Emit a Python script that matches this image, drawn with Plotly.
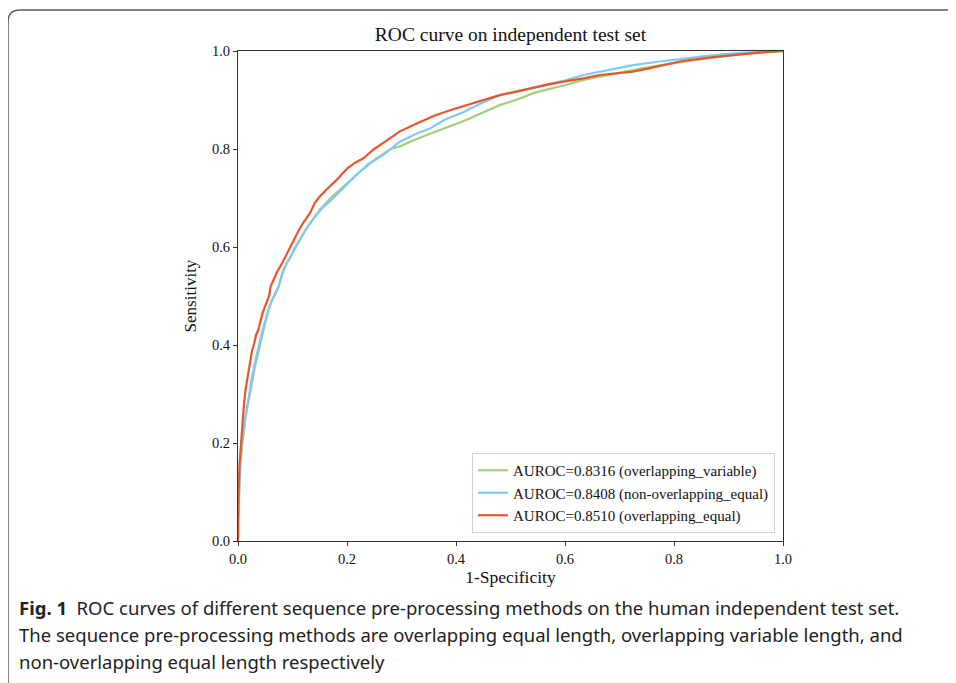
import plotly.graph_objects as go

# ---- data ----
fpr_var = [0, 0, 0.002, 0.004, 0.007, 0.010, 0.015, 0.020, 0.024, 0.027, 0.030, 0.034, 0.038, 0.040, 0.046, 0.054,
           0.060, 0.066, 0.075, 0.083, 0.094, 0.105, 0.117, 0.130, 0.150, 0.170, 0.193, 0.220, 0.254, 0.280, 0.297,
           0.316, 0.350, 0.380, 0.419, 0.440, 0.481, 0.510, 0.542, 0.580, 0.600, 0.634, 0.664, 0.700, 0.725, 0.770,
           0.817, 0.860, 0.909, 0.950, 1.0]
tpr_var = [0, 0.04, 0.09, 0.15, 0.19, 0.22, 0.26, 0.29, 0.31, 0.33, 0.35, 0.37, 0.39, 0.40, 0.43, 0.465,
           0.485, 0.50, 0.52, 0.553, 0.575, 0.60, 0.621, 0.645, 0.676, 0.70, 0.723, 0.75, 0.781, 0.80, 0.805,
           0.815, 0.83, 0.842, 0.859, 0.87, 0.89, 0.90, 0.914, 0.925, 0.93, 0.941, 0.948, 0.955, 0.961, 0.97,
           0.978, 0.985, 0.992, 0.996, 1.0]

fpr_nov = [0, 0, 0.002, 0.004, 0.007, 0.010, 0.015, 0.020, 0.025, 0.031, 0.035, 0.039, 0.045, 0.054, 0.060, 0.066,
           0.074, 0.080, 0.089, 0.094, 0.105, 0.120, 0.124, 0.140, 0.157, 0.175, 0.199, 0.220, 0.240, 0.267, 0.297,
           0.325, 0.352, 0.380, 0.413, 0.445, 0.481, 0.510, 0.550, 0.600, 0.634, 0.664, 0.700, 0.725, 0.770, 0.817,
           0.860, 0.909, 0.950, 1.0]
tpr_nov = [0, 0.05, 0.10, 0.159, 0.20, 0.227, 0.265, 0.294, 0.33, 0.363, 0.385, 0.403, 0.43, 0.465, 0.485, 0.50,
           0.519, 0.54, 0.567, 0.575, 0.60, 0.628, 0.635, 0.66, 0.682, 0.70, 0.727, 0.75, 0.77, 0.788, 0.815,
           0.83, 0.842, 0.86, 0.875, 0.893, 0.91, 0.917, 0.927, 0.94, 0.951, 0.958, 0.966, 0.971, 0.978, 0.985,
           0.99, 0.995, 0.998, 1.0]

fpr_eq = [0, 0, 0.001, 0.003, 0.006, 0.008, 0.011, 0.014, 0.018, 0.022, 0.026, 0.029, 0.033, 0.037, 0.041, 0.045,
          0.050, 0.054, 0.057, 0.060, 0.065, 0.072, 0.081, 0.089, 0.097, 0.105, 0.112, 0.120, 0.132, 0.141, 0.150,
          0.165, 0.181, 0.200, 0.215, 0.230, 0.250, 0.266, 0.297, 0.328, 0.360, 0.389, 0.420, 0.450, 0.480, 0.511,
          0.536, 0.570, 0.600, 0.634, 0.664, 0.700, 0.725, 0.760, 0.800, 0.817, 0.860, 0.909, 0.950, 1.0]
tpr_eq = [0, 0.06, 0.10, 0.16, 0.21, 0.24, 0.28, 0.31, 0.34, 0.365, 0.39, 0.40, 0.42, 0.43, 0.45, 0.465,
          0.48, 0.49, 0.50, 0.52, 0.533, 0.55, 0.567, 0.585, 0.60, 0.62, 0.635, 0.65, 0.669, 0.69, 0.703,
          0.72, 0.737, 0.76, 0.772, 0.781, 0.80, 0.812, 0.836, 0.852, 0.868, 0.879, 0.89, 0.90, 0.91, 0.917,
          0.924, 0.932, 0.938, 0.944, 0.951, 0.955, 0.958, 0.966, 0.976, 0.98, 0.986, 0.992, 0.996, 1.0]

names = ["AUROC=0.8316 (overlapping_variable)",
         "AUROC=0.8408 (non-overlapping_equal)",
         "AUROC=0.8510 (overlapping_equal)"]
colors = ["#a3cf7d", "#80c9f6", "#e8562b"]
tick_vals = [0.0, 0.2, 0.4, 0.6, 0.8, 1.0]
tick_text = ["0.0", "0.2", "0.4", "0.6", "0.8", "1.0"]

# page body has an 8px margin: work in screen pixels and shift
OFF = 8
W, H = 956 - OFF, 683 - OFF
L, R, T, B = 238 - OFF, 783 - OFF, 51 - OFF, 541 - OFF

def px(x):
    return (x - OFF - L) / (R - L)

def py(y):
    return (B - (y - OFF)) / (B - T)

fig = go.Figure()
for xs, ys, nm, c in zip([fpr_var, fpr_nov, fpr_eq], [tpr_var, tpr_nov, tpr_eq], names, colors):
    fig.add_trace(go.Scatter(x=xs, y=ys, mode="lines", name=nm,
                             line=dict(color=c, width=2.2)))

serif = "Liberation Serif, Times New Roman, serif"
axis_common = dict(range=[0, 1], tickvals=tick_vals, ticktext=tick_text, showgrid=False, zeroline=False,
                   showline=True, linecolor="#333333", linewidth=1.2, mirror=True,
                   ticks="outside", ticklen=4, tickwidth=1, tickcolor="#333333",
                   tickfont=dict(family=serif, size=14.5, color="#111111"))

fig.update_layout(
    width=W, height=H,
    margin=dict(l=L, r=W - R, t=T, b=H - B, pad=0),
    paper_bgcolor="white", plot_bgcolor="white",
    title=dict(text="ROC curve on independent test set", x=px(510.5), xref="paper", xanchor="center",
               y=1 - (34 - OFF) / H, yanchor="middle", font=dict(family=serif, size=19.5, color="#111111")),
    xaxis=dict(**axis_common, title=dict(text="1-Specificity", standoff=5,
                                         font=dict(family=serif, size=17.5, color="#111111"))),
    yaxis=dict(**axis_common, title=dict(text="Sensitivity", standoff=10,
                                         font=dict(family=serif, size=17, color="#111111"))),
    legend=dict(x=px(775), y=py(533), xanchor="right", yanchor="bottom",
                bgcolor="white", bordercolor="#d0d0d0", borderwidth=1,
                font=dict(family=serif, size=15, color="#111111"), itemwidth=30,
                tracegroupgap=0),
    showlegend=True,
)

# frame around the figure (rounded top-left corner, continuing past right and bottom)
x0, y0, r = 8, 10, 12
path = (f"M {px(x0)},{py(H + 20)} L {px(x0)},{py(y0 + r)} "
        f"Q {px(x0)},{py(y0)} {px(x0 + r)},{py(y0)} L {px(W + 20)},{py(y0)}")
fig.add_shape(type="path", path=path, xref="paper", yref="paper",
              line=dict(color="#5a5a5a", width=1.5), layer="above")

cap_font = dict(family="Noto Sans, Open Sans, sans-serif", size=18.5, color="#222222")
captions = [
    "<b>Fig. 1</b>  ROC curves of different sequence pre-processing methods on the human independent test set.",
    "The sequence pre-processing methods are overlapping equal length, overlapping variable length, and",
    "non-overlapping equal length respectively",
]
for txt, yy in zip(captions, [607, 634, 661]):
    fig.add_annotation(text=txt, x=px(17), y=py(yy), xref="paper", yref="paper",
                       xanchor="left", yanchor="middle", showarrow=False, font=cap_font)

fig.write_html("out.html")
